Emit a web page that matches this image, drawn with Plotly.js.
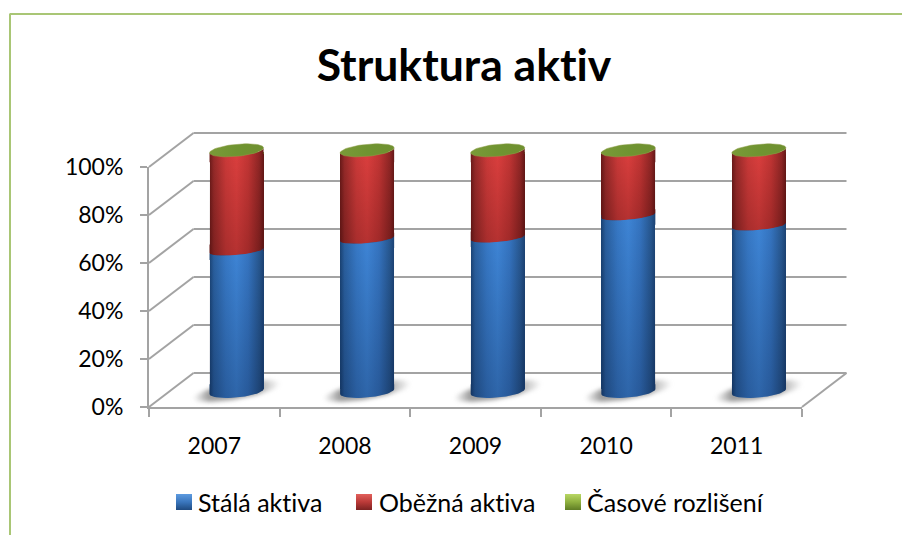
<!DOCTYPE html>
<html><head><meta charset="utf-8">
<script src="https://cdn.plot.ly/plotly-3.0.1.min.js"></script>
<style>html,body{margin:0;padding:0;background:#fff}#c{width:902px;height:535px}svg text{font-variant-ligatures:none;font-feature-settings:"liga" 0,"clig" 0;letter-spacing:0.01px}</style>
</head><body><div id="c"></div>
<script>
const years = [2007, 2008, 2009, 2010, 2011];
const stalaAktiva = [58.6, 63.6, 64.1, 73.5, 69.2];
const obeznaAktiva = [41.1, 36.1, 35.6, 26.2, 30.5];
const casoveRozliseni = [0.3, 0.3, 0.3, 0.3, 0.3];
const gridValues = [0, 20, 40, 60, 80, 100];
const seriesNames = ['Stálá aktiva', 'Oběžná aktiva', 'Časové rozlišení'];

const W = 902, H = 535;
const px = x => x / W, py = y => 1 - y / H;
const GRAY = '#a3a3a3';
const FL = 149, FR = 802, FB = 407, FT = 167;      // front plane
const DX = 44.5, DY = 34;                          // depth shift
const ML = FL + DX / 2, MR = FR + DX / 2;
const ZERO = 389, UNIT = 2.362, YLO = -8, YHI = 108;
const A = 27 / ((MR - ML) / 5), B = 2.55, MIDB = 1.9, TILT = 1.05;

const blueScale = [[0, '#1a4374'], [0.08, '#2a609f'], [0.3, '#3779c6'], [0.5, '#3e85d6'], [0.72, '#3574c0'], [0.92, '#27578f'], [1, '#1c4374']];
const redScale = [[0, '#6a1a19'], [0.08, '#962a29'], [0.3, '#cc3a39'], [0.5, '#dc3f3e'], [0.72, '#c23534'], [0.92, '#8f2625'], [1, '#651817']];
const greenScale = [[0, '#7a9a38'], [0.5, '#6f9431'], [1, '#6f9030']];
const shadowScale = [[0, 'rgba(120,120,120,0)'], [0.18, 'rgba(105,105,105,0.65)'], [0.72, 'rgba(105,105,105,0.65)'], [1, 'rgba(120,120,120,0)']];
const shadeRed = [[0, 'rgba(40,0,0,0.22)'], [1, 'rgba(40,0,0,0)']];
const shadeBlue = [[0, 'rgba(0,10,40,0.26)'], [1, 'rgba(0,10,40,0)']];

function steps(a, b, n) { const o = []; for (let i = 0; i <= n; i++) o.push(a + (b - a) * i / n); return o; }
function ellipseX(c, a, t) { return c + a * Math.cos(t); }
function ellipseY(v, b, tilt, t) { return v + tilt * Math.cos(t) + b * Math.sin(t); }
function capTrace(xs, ys, scale, type) {
  return { type: 'scatter', mode: 'lines', x: xs, y: ys, xaxis: 'x3', yaxis: 'y3', fill: 'toself', line: { width: 0 },
    fillgradient: { type: type || 'horizontal', colorscale: scale }, showlegend: false, hoverinfo: 'skip' };
}
const arcTs = steps(Math.PI, 2 * Math.PI, 30);
function arcCap(c, v, close, scale, b) {
  const xs = arcTs.map(t => ellipseX(c, A, t)), ys = arcTs.map(t => ellipseY(v, b, TILT, t));
  xs.push(c + A, c - A, c - A); ys.push(close, close, ys[0]);
  return capTrace(xs, ys, scale);
}
function bodyShade(c, vTop, bTop, vBot, bBot, scale) {
  const xs = arcTs.map(t => ellipseX(c, A, t)), ys = arcTs.map(t => ellipseY(vTop, bTop, TILT, t));
  arcTs.slice().reverse().forEach(t => { xs.push(ellipseX(c, A, t)); ys.push(ellipseY(vBot, bBot, TILT, t)); });
  return capTrace(xs, ys, scale, 'vertical');
}
const traces = [];
traces.push({ type: 'scatter', mode: 'none', x: years.map(String), y: stalaAktiva, xaxis: 'x', yaxis: 'y', showlegend: false, hoverinfo: 'skip' });
// floor shadows
years.forEach(yr => {
  const ts = steps(0, 2 * Math.PI, 48);
  const t = capTrace(ts.map(q => ellipseX(yr, A * 1.62, q)), ts.map(q => ellipseY(-0.85, 3.4, 3.1, q)), shadowScale);
  t.xaxis = 'x2'; t.yaxis = 'y2'; traces.push(t);
});
const barBase = { type: 'bar', x: years, xaxis: 'x3', yaxis: 'y3', hoverinfo: 'x+y+name' };
traces.push(Object.assign({}, barBase, { name: seriesNames[0], y: stalaAktiva, marker: { color: '#2f6bb0', line: { width: 0 } } }));
traces.push(Object.assign({}, barBase, { name: seriesNames[1], y: obeznaAktiva, marker: { color: '#b83232', line: { width: 0 } } }));
traces.push(Object.assign({}, barBase, { name: seriesNames[2], y: casoveRozliseni, marker: { color: '#7da33a', line: { width: 0 } } }));
years.forEach((yr, i) => {
  const v = stalaAktiva[i];
  const top = v + obeznaAktiva[i] + casoveRozliseni[i];
  traces.push(arcCap(yr, v, v + TILT + 1.5, redScale, MIDB));
  traces.push(arcCap(yr, v, v - MIDB - TILT - 1, blueScale, MIDB));
  traces.push(arcCap(yr, -TILT, TILT + 1, blueScale, B));
  traces.push(arcCap(yr, top + TILT, top - 4, redScale, B));
  traces.push(bodyShade(yr, top + TILT, B, v, MIDB, shadeRed));
  traces.push(bodyShade(yr, v, MIDB, -TILT, B, shadeBlue));
  const ts = steps(0, 2 * Math.PI, 60);
  const g = capTrace(ts.map(t => ellipseX(yr, A, t)), ts.map(t => ellipseY(top + TILT, B, TILT, t)), greenScale);
  g.line = { width: 0.5, color: '#8f9f48' };
  traces.push(g);
});

const line = (x0, y0, x1, y1, c, w) => ({ type: 'line', xref: 'paper', yref: 'paper', x0: px(x0), y0: py(y0), x1: px(x1), y1: py(y1), line: { color: c || GRAY, width: w || 2 }, layer: 'below' });
const shapes = [];
gridValues.forEach(v => {
  const fy = FB - (FB - FT) * v / 100;
  shapes.push(line(FL, fy, FL + DX, fy - DY));
  shapes.push(line(FL + DX, fy - DY, FR + DX, fy - DY));
});
shapes.push(line(FR, FB, FR + DX, FB - DY));
const BORDER = '#a9c675';
shapes.push(line(9.5, 14, W, 14, BORDER, 2));
shapes.push(line(10, 14, 10, H, BORDER, 2));

const hidden = { visible: false, fixedrange: true };
const layout = {
  width: W, height: H, margin: { l: 0, r: 0, t: 0, b: 0 }, paper_bgcolor: '#fff', plot_bgcolor: 'rgba(0,0,0,0)',
  font: { family: 'Lato, sans-serif', color: '#000', size: 23 },
  title: { text: '<b>Struktura aktiv</b>', font: { family: 'Lato, sans-serif', size: 44.5, color: '#000' }, x: 464 / W, xanchor: 'center', y: py(65), yanchor: 'middle' },
  barmode: 'stack', bargap: 1 - 2 * A, showlegend: true,
  legend: { orientation: 'h', x: px(165), y: py(485), xanchor: 'left', yanchor: 'top', font: { size: 25 }, traceorder: 'normal' },
  xaxis: { type: 'category', categoryorder: 'array', categoryarray: years.map(String), range: [-0.5, 4.5], domain: [px(FL), px(FR)], anchor: 'y',
    tickson: 'boundaries', ticks: 'outside', ticklen: 8, tickwidth: 2, tickcolor: GRAY, showline: true, linecolor: GRAY, linewidth: 2, showgrid: false, zeroline: false, fixedrange: true, ticklabelstandoff: 17, tickfont: { size: 23 } },
  yaxis: { range: [0, 100], domain: [py(FB), py(FT)], anchor: 'x', dtick: 20, ticksuffix: '%', ticks: 'outside', ticklen: 7, tickwidth: 2, tickcolor: GRAY, showline: true, linecolor: GRAY, linewidth: 2, showgrid: false, zeroline: false, fixedrange: true, ticklabelstandoff: 12, tickfont: { size: 23 } },
  xaxis2: Object.assign({ range: [2006.5, 2011.5], domain: [px(ML), px(MR)], anchor: 'y2' }, hidden),
  yaxis2: Object.assign({ range: [YLO, YHI], domain: [py(ZERO - YLO * UNIT), py(ZERO - YHI * UNIT)], anchor: 'x2' }, hidden),
  xaxis3: Object.assign({ range: [2006.5, 2011.5], domain: [px(ML), px(MR)], anchor: 'y3' }, hidden),
  yaxis3: Object.assign({ range: [YLO, YHI], domain: [py(ZERO - YLO * UNIT), py(ZERO - YHI * UNIT)], anchor: 'x3' }, hidden),
  shapes: shapes
};

const NS = 'http://www.w3.org/2000/svg';
function addGradient(defs, id, scale, vertical) {
  const g = document.createElementNS(NS, 'linearGradient');
  g.setAttribute('id', id); g.setAttribute('x1', '0'); g.setAttribute('y1', '0');
  g.setAttribute('x2', vertical ? '0' : '1'); g.setAttribute('y2', vertical ? '1' : '0');
  scale.forEach(s => { const st = document.createElementNS(NS, 'stop'); st.setAttribute('offset', s[0]); st.setAttribute('stop-color', s[1]); g.appendChild(st); });
  defs.appendChild(g);
}
const swatchLeft = [176, 356, 565], textLeft = [198, 379, 587], legendMidY = 502;
Plotly.newPlot('c', traces, layout, { displayModeBar: false, responsive: false }).then(gd => {
  const svg = gd.querySelector('svg.main-svg');
  const defs = svg.querySelector('defs');
  addGradient(defs, 'gBlue', blueScale); addGradient(defs, 'gRed', redScale); addGradient(defs, 'gGreen', greenScale);
  addGradient(defs, 'sBlue', [[0, '#5d9be0'], [0.5, '#3a76bd'], [1, '#1f4a80']], true);
  addGradient(defs, 'sRed', [[0, '#e2605c'], [0.5, '#bb3a38'], [1, '#7c2221']], true);
  addGradient(defs, 'sGreen', [[0, '#b9d765'], [0.5, '#8fb13f'], [1, '#5f7d25']], true);
  const ids = ['gBlue', 'gRed', 'gGreen'], sids = ['sBlue', 'sRed', 'sGreen'];
  gd.querySelectorAll('.barlayer .trace.bars').forEach((tr, i) => {
    tr.querySelectorAll('.point path').forEach(p => { p.style.fill = 'url(#' + ids[i] + ')'; });
  });
  gd.querySelectorAll('.x2y2 .js-fill').forEach(p => { p.style.filter = 'blur(2px)'; });
  gd.querySelectorAll('.legend, .legend .scrollbox').forEach(n => { n.removeAttribute('clip-path'); n.style.clipPath = 'none'; });
  const box = gd.getBoundingClientRect();
  gd.querySelectorAll('.legend .traces').forEach((item, i) => {
    const path = item.querySelector('.legendpoints path');
    path.setAttribute('d', 'M8,8H-8V-8H8Z');
    path.style.fill = 'url(#' + sids[i] + ')';
    const pts = path.closest('.legendpoints');
    const r = path.getBoundingClientRect();
    pts.setAttribute('transform', 'translate(' + (swatchLeft[i] - (r.left - box.left)) + ',' + (legendMidY - (r.top + r.height / 2 - box.top)) + ')');
    const text = item.querySelector('text.legendtext');
    const q = text.getBoundingClientRect();
    text.setAttribute('transform', 'translate(' + (textLeft[i] - (q.left - box.left)) + ',' + (legendMidY - (q.top + q.height / 2 - box.top)) + ')');
  });
});
</script></body></html>
